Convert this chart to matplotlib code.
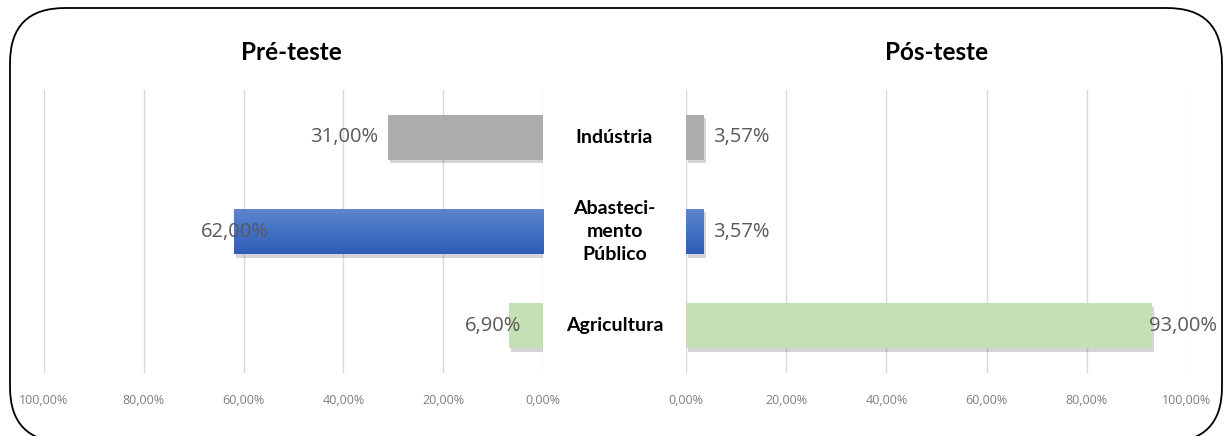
import numpy as np
import matplotlib
matplotlib.use('Agg')
import matplotlib.pyplot as plt
import matplotlib.patheffects as pe
import matplotlib.transforms as mtransforms
from matplotlib.patches import FancyBboxPatch

categorias = ['Indústria', 'Abasteci-\nmento\nPúblico', 'Agricultura']
pre_teste = [31.00, 62.00, 6.90]
pos_teste = [3.57, 3.57, 93.00]
cores = ['#AEABAB', '#4472C4', '#C5E0B4']
ticks = [0, 20, 40, 60, 80, 100]


def fmt(v):
    return f'{v:.2f}'.replace('.', ',') + '%'


W, H = 1229, 436
fig = plt.figure(figsize=(W / 100, H / 100), dpi=100)

# moldura arredondada (em pixels)
moldura = FancyBboxPatch((10, -6), 1212, 436 + 6 - 8,
                         boxstyle='round,pad=0,rounding_size=55',
                         transform=mtransforms.IdentityTransform(),
                         facecolor='none', edgecolor='black', linewidth=1.3,
                         zorder=10)
fig.patches.append(moldura)

y0 = 1 - 373 / H
h = 283 / H
ax_l = fig.add_axes([44 / W, y0, 499 / W, h])
ax_r = fig.add_axes([686 / W, y0, 501 / W, h])

ypos = np.arange(len(categorias))
sombra = [pe.SimplePatchShadow(offset=(1.5, -2.5), alpha=0.22, shadow_rgbFace='#404040'), pe.Normal()]


def gradiente(ax, bar):
    # preenchimento em degradê para a barra azul
    x0, yb = bar.get_x(), bar.get_y()
    grad = np.linspace(0, 1, 64).reshape(-1, 1)
    cmap = matplotlib.colors.LinearSegmentedColormap.from_list('g', ['#5F86CF', '#4472C4', '#2F5DB6'])
    im = ax.imshow(grad, aspect='auto', cmap=cmap, origin='upper',
                   extent=(x0, x0 + bar.get_width(), yb + bar.get_height(), yb),
                   zorder=3)
    im.set_clip_path(bar)


for ax, vals in [(ax_l, pre_teste), (ax_r, pos_teste)]:
    bars = ax.barh(ypos, vals, height=0.48, color=cores, zorder=2)
    for b in bars:
        b.set_path_effects(sombra)
    gradiente(ax, bars[1])
    ax.set_xlim(0, 100)
    ax.set_ylim(2.5, -0.5)
    ax.set_xticks(ticks)
    ax.set_xticklabels([fmt(t) for t in ticks], fontsize=9, color='#7F7F7F',
                       family=['Open Sans', 'DejaVu Sans'])
    ax.tick_params(axis='x', length=0, pad=15)
    ax.set_yticks([])
    ax.grid(axis='x', color='#D9D9D9', linewidth=1, zorder=0)
    ax.set_axisbelow(True)
    for s in ax.spines.values():
        s.set_visible(False)
    ax.patch.set_alpha(0)

ax_l.invert_xaxis()

# rótulos de valor
rot = dict(fontsize=14.5, color='#595959', family=['Open Sans', 'DejaVu Sans'], va='center')
desloc_l = [2.0, -7.0, -2.5]
for i, v in enumerate(pre_teste):
    ax_l.text(v + desloc_l[i], ypos[i], fmt(v), ha='right', zorder=5, **rot)
desloc_r = [1.8, 1.8, -0.5]
for i, v in enumerate(pos_teste):
    ax_r.text(v + desloc_r[i], ypos[i], fmt(v), ha='left', zorder=5, **rot)

# títulos
tit = dict(fontsize=17.5, fontweight='bold', family=['Lato', 'DejaVu Sans'], ha='center', va='center')
ax_l.text(0.495, 1 + 37 / 283, 'Pré-teste', transform=ax_l.transAxes, **tit)
ax_r.text(0.5, 1 + 37 / 283, 'Pós-teste', transform=ax_r.transAxes, **tit)

# categorias no centro
tr = mtransforms.blended_transform_factory(fig.transFigure, ax_l.transData)
for i, c in enumerate(categorias):
    fig.text(614.5 / W, ypos[i], c, transform=tr, ha='center', va='center',
             fontsize=14, fontweight='bold', family=['Lato', 'DejaVu Sans'],
             linespacing=1.4)

fig.savefig('out.png', dpi=100)
